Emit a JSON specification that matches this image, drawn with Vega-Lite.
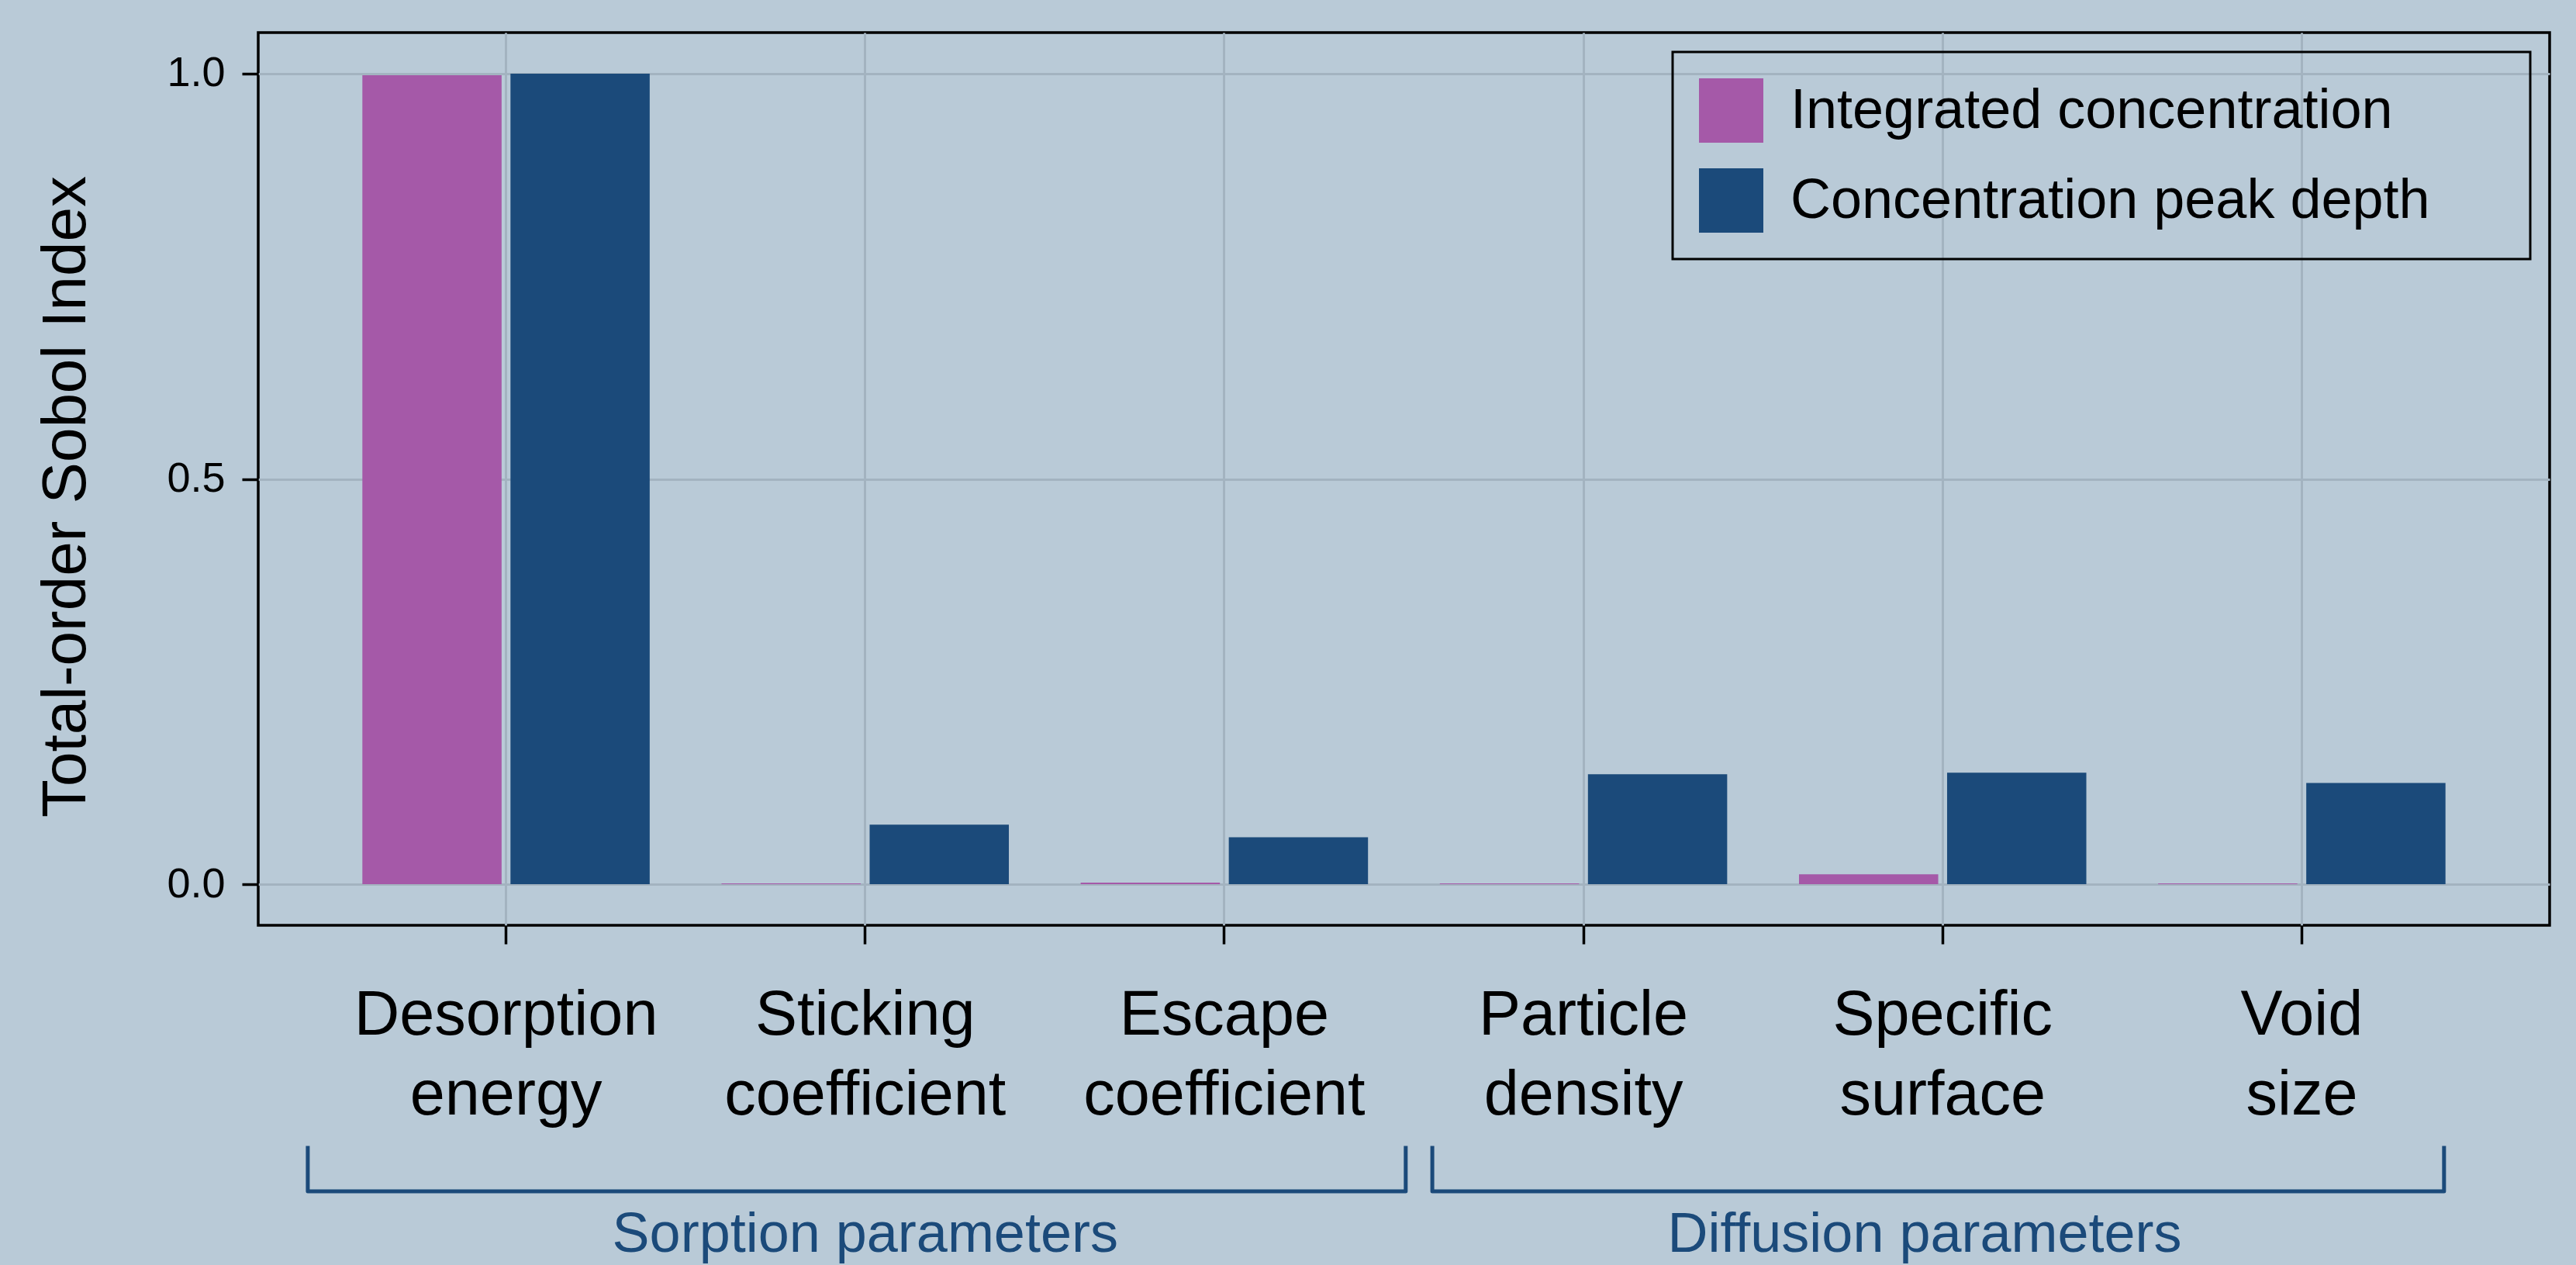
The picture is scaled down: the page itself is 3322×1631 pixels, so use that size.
{
  "$schema": "https://vega.github.io/schema/vega-lite/v6.json",
  "width": 2955,
  "height": 1151,
  "autosize": {"type": "none"},
  "padding": {"left": 333, "top": 42, "right": 34, "bottom": 438},
  "background": "#b9cad7",
  "config": {
    "font": "Liberation Sans",
    "view": {"stroke": "#000000", "strokeWidth": 3.5},
    "axis": {
      "labelFont": "Liberation Sans",
      "titleFont": "Liberation Sans",
      "labelColor": "#000000",
      "titleColor": "#000000",
      "tickColor": "#000000",
      "tickWidth": 3.5,
      "gridColor": "#a3b3c0",
      "gridWidth": 3,
      "gridOpacity": 1,
      "domain": false
    },
    "legend": {"labelFont": "Liberation Sans", "strokeColor": "#000000"}
  },
  "layer": [
    {
      "data": {
        "values": [
          {"param": "Desorption energy", "series": "Integrated concentration", "value": 0.998},
          {"param": "Desorption energy", "series": "Concentration peak depth", "value": 1.0},
          {"param": "Sticking coefficient", "series": "Integrated concentration", "value": 0.001},
          {"param": "Sticking coefficient", "series": "Concentration peak depth", "value": 0.0734},
          {"param": "Escape coefficient", "series": "Integrated concentration", "value": 0.002},
          {"param": "Escape coefficient", "series": "Concentration peak depth", "value": 0.058},
          {"param": "Particle density", "series": "Integrated concentration", "value": 0.001},
          {"param": "Particle density", "series": "Concentration peak depth", "value": 0.1356},
          {"param": "Specific surface", "series": "Integrated concentration", "value": 0.0122},
          {"param": "Specific surface", "series": "Concentration peak depth", "value": 0.1375},
          {"param": "Void size", "series": "Integrated concentration", "value": 0.001},
          {"param": "Void size", "series": "Concentration peak depth", "value": 0.125}
        ]
      },
      "mark": {"type": "bar"},
      "encoding": {
        "x": {
          "field": "param",
          "type": "nominal",
          "sort": ["Desorption energy", "Sticking coefficient", "Escape coefficient", "Particle density", "Specific surface", "Void size"],
          "scale": {"paddingInner": 0.2, "paddingOuter": 0.29},
          "axis": {
            "title": null,
            "labelAngle": 0,
            "labelFontSize": 81,
            "labelExpr": "split(datum.label, ' ')",
            "labelLineHeight": 103,
            "labelPadding": 52,
            "labelLimit": 1000,
            "tickSize": 24,
            "grid": true,
            "labelBaseline": "top"
          }
        },
        "xOffset": {
          "field": "series",
          "type": "nominal",
          "sort": ["Integrated concentration", "Concentration peak depth"],
          "scale": {"paddingInner": 0.06, "paddingOuter": 0}
        },
        "y": {
          "field": "value",
          "type": "quantitative",
          "scale": {"domain": [-0.0507, 1.0507], "nice": false, "zero": false},
          "axis": {
            "title": "Total-order Sobol Index",
            "titleFontSize": 80,
            "titleFontWeight": "normal",
            "titlePadding": 88,
            "titleY": 598,
            "values": [0, 0.5, 1],
            "format": ".1f",
            "labelFontSize": 54,
            "labelPadding": 22,
            "tickSize": 21,
            "grid": true
          }
        },
        "color": {
          "field": "series",
          "type": "nominal",
          "scale": {"domain": ["Integrated concentration", "Concentration peak depth"], "range": ["#a559a8", "#1b4a7a"]},
          "legend": {
            "title": "\u00a0",
            "titleOrient": "right",
            "titleFontSize": 2,
            "titlePadding": 95,
            "orient": "top-right",
            "offset": 25,
            "padding": 34,
            "symbolType": "square",
            "symbolSize": 6889,
            "symbolStrokeWidth": 0,
            "symbolOpacity": 1,
            "labelFontSize": 72,
            "labelColor": "#000000",
            "labelOffset": 35,
            "labelLimit": 2000,
            "rowPadding": 33,
            "encode": {"legend": {"update": {"strokeWidth": {"value": 3}}}}
          }
        }
      }
    },
    {
      "data": {
        "values": [
          {"group": "Sorption", "ord": 1, "bx": 0.448, "by": -0.323},
          {"group": "Sorption", "ord": 2, "bx": 0.448, "by": -0.379},
          {"group": "Sorption", "ord": 3, "bx": 3.505, "by": -0.379},
          {"group": "Sorption", "ord": 4, "bx": 3.505, "by": -0.323},
          {"group": "Diffusion", "ord": 1, "bx": 3.579, "by": -0.323},
          {"group": "Diffusion", "ord": 2, "bx": 3.579, "by": -0.379},
          {"group": "Diffusion", "ord": 3, "bx": 6.396, "by": -0.379},
          {"group": "Diffusion", "ord": 4, "bx": 6.396, "by": -0.323}
        ]
      },
      "mark": {"type": "line", "color": "#1b4a7a", "strokeWidth": 5, "strokeJoin": "round", "clip": false},
      "encoding": {
        "x": {"field": "bx", "type": "quantitative", "scale": {"domain": [0.31, 6.69], "nice": false, "zero": false}, "axis": null},
        "y": {"field": "by", "type": "quantitative", "scale": {"domain": [-0.0507, 1.0507], "nice": false, "zero": false}},
        "detail": {"field": "group", "type": "nominal"},
        "order": {"field": "ord", "type": "quantitative"}
      }
    },
    {
      "data": {
        "values": [
          {"label": "Sorption parameters", "tx": 2.0, "ty": -0.4536},
          {"label": "Diffusion parameters", "tx": 4.95, "ty": -0.4536}
        ]
      },
      "mark": {"type": "text", "color": "#1b4a7a", "fontSize": 72, "font": "Liberation Sans", "baseline": "alphabetic", "align": "center", "clip": false},
      "encoding": {
        "x": {"field": "tx", "type": "quantitative", "scale": {"domain": [0.31, 6.69], "nice": false, "zero": false}, "axis": null},
        "y": {"field": "ty", "type": "quantitative", "scale": {"domain": [-0.0507, 1.0507], "nice": false, "zero": false}},
        "text": {"field": "label"}
      }
    }
  ],
  "resolve": {"scale": {"x": "independent"}}
}
